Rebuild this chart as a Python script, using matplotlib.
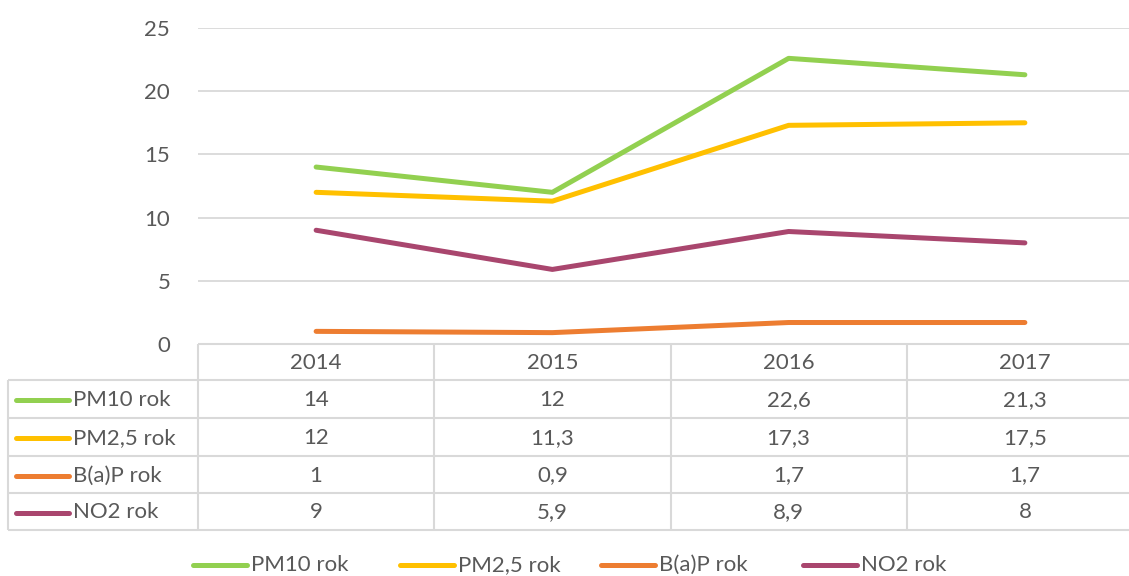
import matplotlib.pyplot as plt
from matplotlib.lines import Line2D

years = ["2014", "2015", "2016", "2017"]
series_names = ["PM10 rok", "PM2,5 rok", "B(a)P rok", "NO2 rok"]
pm10 = [14, 12, 22.6, 21.3]
pm25 = [12, 11.3, 17.3, 17.5]
bap = [1, 0.9, 1.7, 1.7]
no2 = [9, 5.9, 8.9, 8]
series_values = [pm10, pm25, bap, no2]
colors = ["#92D050", "#FFC000", "#ED7D31", "#A9466E"]
y_ticks = [0, 5, 10, 15, 20, 25]

TEXT = "#595959"
GRID = "#D9D9D9"
W, H = 1129, 576
plt.rcParams["font.family"] = ["Lato", "DejaVu Sans"]
FS = 16


def fmt(v):
    s = f"{v:g}"
    return s.replace(".", ",")


fig = plt.figure(figsize=(W / 100, H / 100), dpi=100)

# plot area in pixels: x 198..1143 (runs past the right edge), y 28..344
x0, x1 = 198, 1143
y_top, y_zero = 28, 344
ax = fig.add_axes([x0 / W, 1 - y_zero / H, (x1 - x0) / W, (y_zero - y_top) / H])
ax.set_xlim(-0.5, len(years) - 0.5)
ax.set_ylim(0, 25)
for v in y_ticks[1:]:
    ax.axhline(v, color=GRID, lw=1.3, zorder=0)
for vals, c in zip(series_values, colors):
    ax.plot(range(len(years)), vals, color=c, lw=3.6, solid_capstyle="round",
            solid_joinstyle="round", zorder=3)
ax.set_yticks(y_ticks)
ax.set_yticklabels([str(t) for t in y_ticks], color=TEXT, fontsize=FS)
ax.tick_params(axis="y", length=0, pad=20)
ax.set_xticks([])
for s in ax.spines.values():
    s.set_visible(False)
ax.patch.set_alpha(0)

# data table drawn in pixel coordinates
tab = fig.add_axes([0, 0, 1, 1])
tab.set_xlim(0, W)
tab.set_ylim(H, 0)
tab.axis("off")
tab.patch.set_alpha(0)

col_w = (x1 - x0) / len(years)
row_edges = [344, 380, 418, 456, 493, 530]
left = 8
lkw = dict(color=GRID, lw=1.5, solid_capstyle="butt")
# horizontal lines
tab.plot([x0, W], [row_edges[0]] * 2, **lkw)
for yy in row_edges[1:]:
    tab.plot([left, W], [yy] * 2, **lkw)
# vertical lines
tab.plot([left, left], [row_edges[1], row_edges[-1]], **lkw)
for i in range(len(years) + 1):
    xx = x0 + i * col_w
    tab.plot([xx, xx], [row_edges[0], row_edges[-1]], **lkw)

for i, yr in enumerate(years):
    tab.text(x0 + (i + 0.5) * col_w, (row_edges[0] + row_edges[1]) / 2 + 1, yr,
             ha="center", va="center", color=TEXT, fontsize=FS)
for r, (name, vals, c) in enumerate(zip(series_names, series_values, colors)):
    yc = (row_edges[r + 1] + row_edges[r + 2]) / 2 + 1
    tab.add_line(Line2D([16, 69], [yc, yc], color=c, lw=3.6, solid_capstyle="round"))
    tab.text(73, yc, name, ha="left", va="center", color=TEXT, fontsize=FS)
    for i, v in enumerate(vals):
        tab.text(x0 + (i + 0.5) * col_w, yc, fmt(v), ha="center", va="center",
                 color=TEXT, fontsize=FS)

# bottom legend
leg_x = [193, 400, 601, 803]
for lx, name, c in zip(leg_x, series_names, colors):
    tab.add_line(Line2D([lx, lx + 54], [565, 565], color=c, lw=3.6, solid_capstyle="round"))
    tab.text(lx + 58, 565, name, ha="left", va="center", color=TEXT, fontsize=FS)

fig.savefig("out.png", dpi=100)
